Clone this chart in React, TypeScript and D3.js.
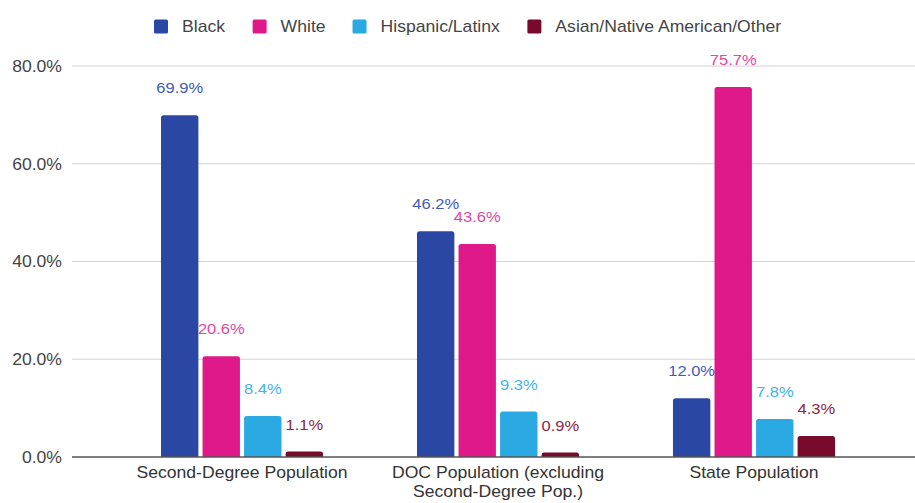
import React, { useEffect, useRef } from "react";
import * as d3 from "d3";

const categoryLines: string[][] = [
  ["Second-Degree Population"],
  ["DOC Population (excluding", "Second-Degree Pop.)"],
  ["State Population"],
];
const seriesNames = ["Black", "White", "Hispanic/Latinx", "Asian/Native American/Other"];
const blackValues = [69.9, 46.2, 12.0];
const whiteValues = [20.6, 43.6, 75.7];
const hispanicValues = [8.4, 9.3, 7.8];
const otherValues = [1.1, 0.9, 4.3];
const yTickValues = [0, 20, 40, 60, 80];

const barColors = ["#2a48a3", "#e0198b", "#2ba9e2", "#780b2b"];
const labelColors = ["#3f5cb2", "#e4479f", "#45b4e6", "#8c2645"];

const W = 915;
const H = 503;
const FONT = "'Liberation Sans', Arial, Helvetica, sans-serif";
const STRETCH = 1.1;

export default function App() {
  const ref = useRef<SVGSVGElement | null>(null);

  useEffect(() => {
    document.body.style.margin = "0";
    const svg = d3.select(ref.current);
    svg.selectAll("*").remove();

    const values = [blackValues, whiteValues, hispanicValues, otherValues];
    const x0 = d3
      .scaleBand<number>()
      .domain(d3.range(categoryLines.length))
      .range([114, 882])
      .paddingInner(0.367)
      .paddingOuter(0.1836);
    const x1 = d3
      .scaleBand<number>()
      .domain(d3.range(seriesNames.length))
      .range([0, x0.bandwidth()])
      .paddingInner(0.1);
    const y = d3.scaleLinear().domain([0, 80]).range([457, 66]);

    const text = (
      g: any,
      x: number,
      yy: number,
      str: string,
      opts: { size: number; fill: string; anchor: string; dy?: string }
    ) =>
      g
        .append("text")
        .attr("transform", `translate(${x},${yy}) scale(${STRETCH},1)`)
        .attr("font-family", FONT)
        .attr("font-size", opts.size)
        .attr("fill", opts.fill)
        .attr("text-anchor", opts.anchor)
        .attr("dy", opts.dy || null)
        .text(str);

    // gridlines
    const grid = svg.append("g");
    yTickValues.forEach((t) => {
      if (t !== 0) {
        grid
          .append("line")
          .attr("x1", 72)
          .attr("x2", W)
          .attr("y1", y(t))
          .attr("y2", y(t))
          .attr("stroke", "#d4d4d4")
          .attr("stroke-width", 1.2);
      }
      text(grid, 62, y(t), d3.format(".1f")(t) + "%", {
        size: 16,
        fill: "#444",
        anchor: "end",
        dy: "0.36em",
      });
    });

    // bars
    const bars = svg.append("g");
    categoryLines.forEach((_, ci) => {
      seriesNames.forEach((_, si) => {
        const v = values[si][ci];
        const bx = (x0(ci) as number) + (x1(si) as number);
        const bw = x1.bandwidth();
        const top = y(v);
        const bottom = y(0);
        const r = Math.min(2.5, (bottom - top) / 2);
        const p = d3.path();
        p.moveTo(bx, bottom);
        p.lineTo(bx, top + r);
        p.quadraticCurveTo(bx, top, bx + r, top);
        p.lineTo(bx + bw - r, top);
        p.quadraticCurveTo(bx + bw, top, bx + bw, top + r);
        p.lineTo(bx + bw, bottom);
        p.closePath();
        bars.append("path").attr("d", p.toString()).attr("fill", barColors[si]);
        text(bars, bx + bw / 2, top - 22, d3.format(".1f")(v) + "%", {
          size: 15,
          fill: labelColors[si],
          anchor: "middle",
        });
      });
    });

    // baseline
    svg
      .append("line")
      .attr("x1", 72)
      .attr("x2", W)
      .attr("y1", y(0))
      .attr("y2", y(0))
      .attr("stroke", "#555")
      .attr("stroke-width", 1.5);

    // x labels
    const xl = svg.append("g");
    categoryLines.forEach((lines, ci) => {
      const cx = (x0(ci) as number) + x0.bandwidth() / 2;
      lines.forEach((ln, li) => {
        text(xl, cx, 478 + li * 19, ln, { size: 16, fill: "#333", anchor: "middle" });
      });
    });

    // legend
    const lg = svg.append("g");
    let lx = 154;
    const ly = 26.5;
    const sq = 14;
    seriesNames.forEach((name, si) => {
      lg.append("rect")
        .attr("x", lx)
        .attr("y", ly - sq / 2)
        .attr("width", sq)
        .attr("height", sq)
        .attr("rx", 1.5)
        .attr("fill", barColors[si]);
      const t = text(lg, lx + sq + 14, ly, name, {
        size: 16,
        fill: "#444",
        anchor: "start",
        dy: "0.36em",
      });
      const w = (t.node() as SVGTextElement).getBBox().width * STRETCH;
      lx = lx + sq + 14 + w + 27;
    });
  }, []);

  return (
    <svg
      ref={ref}
      width={W}
      height={H}
      style={{ position: "absolute", left: 0, top: 0, background: "#fff" }}
    />
  );
}
